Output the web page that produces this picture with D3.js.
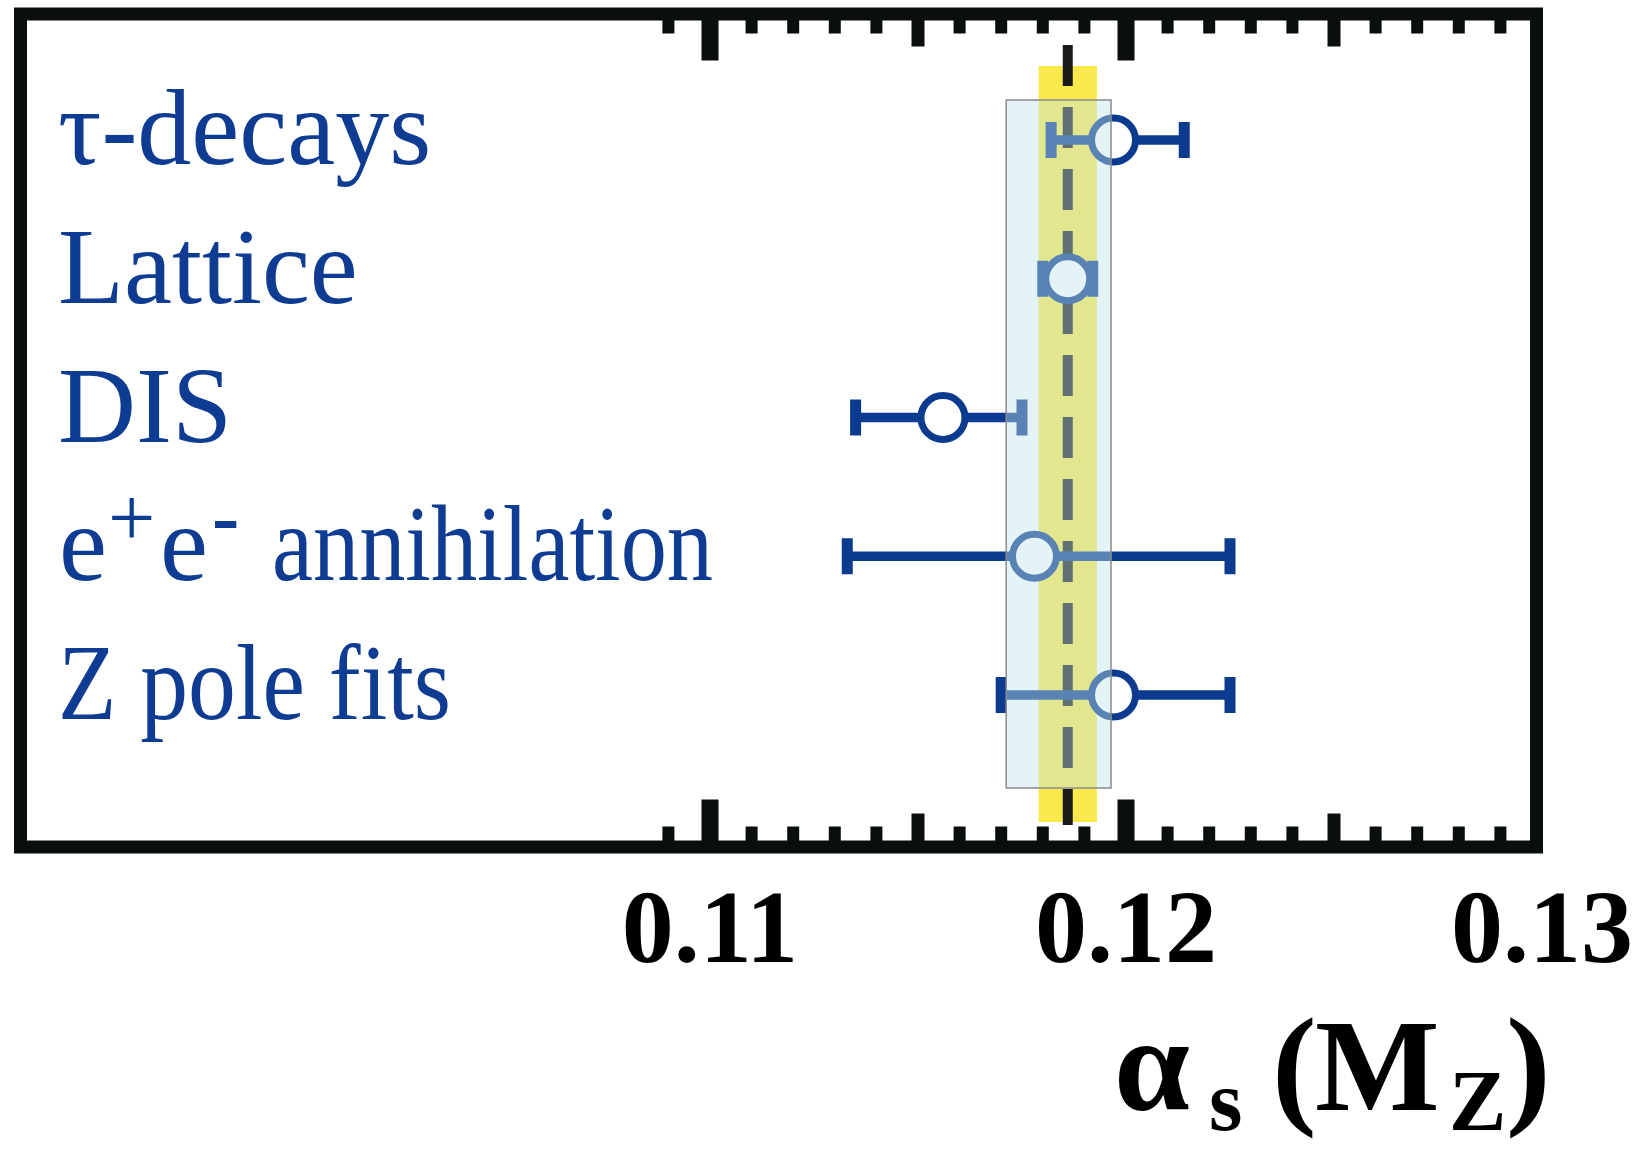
<!DOCTYPE html>
<html>
<head>
<meta charset="utf-8">
<script src="https://cdn.jsdelivr.net/npm/d3@7"></script>
<style>
  html, body { margin: 0; padding: 0; background: #ffffff; }
  svg { display: block; }
  text { font-family: "Liberation Serif", "Times New Roman", serif; }
</style>
</head>
<body>
<svg id="chart" width="1635" height="1150"></svg>
<script>
// Determinations of the strong coupling at the Z mass, by sub-field
const categories = ["tau", "lattice", "dis", "ee", "zpole"];
const centralValues = [0.1197, 0.1186, 0.1156, 0.1178, 0.1197];
const lowerBounds   = [0.1182, 0.1180, 0.1135, 0.1133, 0.1170];
const upperBounds   = [0.1214, 0.1192, 0.1175, 0.1225, 0.1225];

// World average and its uncertainty band
const worldAverage = 0.1186;
const worldAverageError = 0.0007;
// Range covered by the shaded box around the average
const boxRange = [0.11712, 0.11964];

// Axis ticks
const majorTicks = [0.11, 0.12, 0.13];
const majorTickLabels = ["0.11", "0.12", "0.13"];
const mediumTicks = [0.115, 0.125];

const svg = d3.select("#chart");
const blue = "#0b3b8f";
const frameColor = "#0a0f0d";

// Frame geometry
const frame = { left: 20.5, top: 14, right: 1536.5, bottom: 847, stroke: 13 };
const innerTop = frame.top + frame.stroke / 2;
const innerBottom = frame.bottom - frame.stroke / 2;

const x = d3.scaleLinear().domain([0.11, 0.13]).range([710, 1542]);
const y = d3.scalePoint().domain(categories).range([140, 695]);

// Yellow world-average band
svg.append("rect")
  .attr("x", x(worldAverage - worldAverageError))
  .attr("y", 66)
  .attr("width", x(worldAverage + worldAverageError) - x(worldAverage - worldAverageError))
  .attr("height", 822 - 66)
  .attr("fill", "#f9e94c");

// Dashed central line
svg.append("line")
  .attr("x1", x(worldAverage)).attr("x2", x(worldAverage))
  .attr("y1", 45).attr("y2", 825)
  .attr("stroke", "#1a1a1a")
  .attr("stroke-width", 10)
  .attr("stroke-dasharray", "41 21");

// Error bars
const rows = categories.map((c, i) => ({
  key: c, v: centralValues[i], lo: lowerBounds[i], hi: upperBounds[i]
}));

const bars = svg.append("g").attr("class", "bars");
bars.selectAll("line.err").data(rows).join("line")
  .attr("class", "err")
  .attr("x1", d => x(d.lo)).attr("x2", d => x(d.hi))
  .attr("y1", d => y(d.key)).attr("y2", d => y(d.key))
  .attr("stroke", blue).attr("stroke-width", 9.5);

const capW = 11, capH = 36;
bars.selectAll("rect.capL").data(rows).join("rect")
  .attr("class", "capL")
  .attr("x", d => x(d.lo) - capW / 2).attr("y", d => y(d.key) - capH / 2)
  .attr("width", capW).attr("height", capH).attr("fill", blue);
bars.selectAll("rect.capR").data(rows).join("rect")
  .attr("class", "capR")
  .attr("x", d => x(d.hi) - capW / 2).attr("y", d => y(d.key) - capH / 2)
  .attr("width", capW).attr("height", capH).attr("fill", blue);

bars.selectAll("circle").data(rows).join("circle")
  .attr("cx", d => x(d.v)).attr("cy", d => y(d.key))
  .attr("r", 22)
  .attr("fill", "#ffffff")
  .attr("stroke", blue).attr("stroke-width", 7);

// Translucent box laid over the marks
svg.append("rect")
  .attr("x", x(boxRange[0]))
  .attr("y", 100)
  .attr("width", x(boxRange[1]) - x(boxRange[0]))
  .attr("height", 788 - 100)
  .attr("fill", "rgb(192,227,232)")
  .attr("fill-opacity", 0.43)
  .attr("stroke", "#8c8c8c")
  .attr("stroke-width", 1.5);

// Frame
svg.append("rect")
  .attr("x", frame.left).attr("y", frame.top)
  .attr("width", frame.right - frame.left)
  .attr("height", frame.bottom - frame.top)
  .attr("fill", "none")
  .attr("stroke", frameColor)
  .attr("stroke-width", frame.stroke);

// Ticks on top and bottom edges
const isIn = (list, t) => list.some(m => Math.abs(m - t) < 1e-9);
const minorTicks = d3.range(109, 130).map(k => k / 1000)
  .filter(t => !isIn(majorTicks, t) && !isIn(mediumTicks, t));

function tickSpec(t) {
  if (isIn(majorTicks, t)) return { len: 40, w: 17 };
  if (isIn(mediumTicks, t)) return { len: 26, w: 13 };
  return { len: 13, w: 12 };
}
const allTicks = [...minorTicks, ...mediumTicks, ...majorTicks.filter(t => t < 0.13)];
const tickG = svg.append("g").attr("fill", frameColor);
tickG.selectAll("rect.top").data(allTicks).join("rect")
  .attr("class", "top")
  .attr("x", d => x(d) - tickSpec(d).w / 2)
  .attr("y", innerTop - 1)
  .attr("width", d => tickSpec(d).w)
  .attr("height", d => tickSpec(d).len + 1);
tickG.selectAll("rect.bottom").data(allTicks).join("rect")
  .attr("class", "bottom")
  .attr("x", d => x(d) - tickSpec(d).w / 2)
  .attr("y", d => innerBottom - tickSpec(d).len - 1)
  .attr("width", d => tickSpec(d).w)
  .attr("height", d => tickSpec(d).len + 2);

// Tick labels
svg.append("g").selectAll("text").data(majorTicks).join("text")
  .attr("x", d => x(d))
  .attr("y", 962)
  .attr("text-anchor", "middle")
  .attr("font-size", 104)
  .attr("font-weight", "bold")
  .attr("fill", "#000")
  .text((d, i) => majorTickLabels[i]);

// Axis title: alpha_s (M_Z)
const title = svg.append("g").attr("font-weight", "bold").attr("fill", "#000");
title.append("text").attr("x", 1114).attr("y", 1110).attr("font-size", 136).text("α");
title.append("text").attr("x", 1209).attr("y", 1130).attr("font-size", 86).text("s");
title.append("text").attr("x", 1272).attr("y", 1110).attr("font-size", 134).text("(");
title.append("text").attr("x", 1315).attr("y", 1110).attr("font-size", 132).text("M");
title.append("text").attr("x", 1449).attr("y", 1130).attr("font-size", 86).text("Z");
title.append("text").attr("x", 1506).attr("y", 1110).attr("font-size", 134).text(")");

// Row labels
const labelG = svg.append("g").attr("fill", "#0d3c92").attr("font-size", 108);
const labelX = 58;
const base = k => y(k) + 24;

labelG.append("text").attr("x", labelX).attr("y", base("tau")).text("τ-decays");
labelG.append("text").attr("x", labelX).attr("y", base("lattice")).text("Lattice");
labelG.append("text").attr("x", labelX).attr("y", base("dis")).text("DIS");

const ee = labelG.append("text").attr("y", base("ee"));
ee.append("tspan").attr("x", 59).text("e");
ee.append("tspan").attr("x", 108).attr("dy", -34).attr("font-size", 84).text("+");
ee.append("tspan").attr("x", 160).attr("dy", 34).text("e");
ee.append("tspan").attr("x", 212).attr("dy", -36).attr("font-size", 82).attr("font-weight", "bold").text("-");
labelG.append("text").attr("x", 272).attr("y", base("ee"))
  .attr("textLength", 441).attr("lengthAdjust", "spacingAndGlyphs")
  .text("annihilation");

labelG.append("text").attr("x", labelX).attr("y", base("zpole"))
  .attr("textLength", 393).attr("lengthAdjust", "spacingAndGlyphs")
  .text("Z pole fits");
</script>
</body>
</html>
